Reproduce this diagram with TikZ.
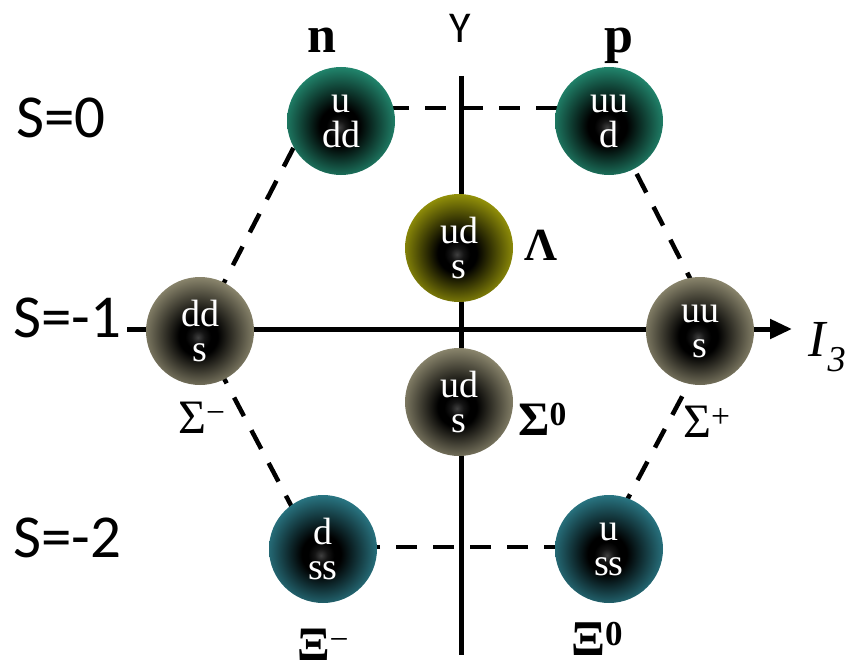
\documentclass[tikz,border=0pt]{standalone}
\usepackage{fontspec}
\setmainfont{Liberation Serif}
\newfontfamily\sansS{Carlito}
\usetikzlibrary{arrows.meta,backgrounds}
\definecolor{cN}{RGB}{36,145,118}
\definecolor{cL}{RGB}{160,158,10}
\definecolor{cS}{RGB}{150,145,118}
\definecolor{cX}{RGB}{45,128,142}
\newcommand\declball[2]{\pgfdeclareradialshading{#1}{\pgfpoint{-1bp}{-3bp}}{color(0bp)=(black!75!white); color(3bp)=(black!92!white); color(6bp)=(black); color(9bp)=(black); color(28bp)=(#2); color(47bp)=(#2); color(50bp)=(#2!85!white)}}
\declball{ballN}{cN}
\declball{ballL}{cL}
\declball{ballS}{cS}
\declball{ballX}{cX}
\tikzset{
  ball/.style={circle, minimum size=108pt, inner sep=0pt, shading=#1, text=white, align=center, font=\fontsize{38}{35}\selectfont},
  lbl/.style={inner sep=0pt, font=\fontsize{#1}{#1}\selectfont},
  slbl/.style={inner sep=0pt, anchor=base west, font=\sansS\fontsize{61}{61}\selectfont},
  hexline/.style={line width=4.5pt, dash pattern=on 21pt off 16pt},
  axis/.style={line width=5pt}
}
\begin{document}
\begin{tikzpicture}[x=1pt,y=-1pt]
\useasboundingbox (0,0) rectangle (852,669);
% balls
\node[ball=ballN] (n) at (341,121) {u\\dd};
\node[ball=ballN] (p) at (609,121) {uu\\d};
\node[ball=ballL] (L) at (459,248) {ud\\s};
\node[ball=ballS] (Sm) at (200,331) {dd\\s};
\node[ball=ballS] (Sp) at (700,331) {uu\\s};
\node[ball=ballS] (S0) at (459,402) {ud\\s};
\node[ball=ballX] (Xm) at (323,549) {d\\ss};
\node[ball=ballX] (X0) at (609,549) {u\\ss};
% axis and hexagon coordinates
\coordinate (axL) at (127,329);
\coordinate (axR) at (792,329);
\coordinate (ayT) at (461,76);
\coordinate (ayB) at (461,655);
\coordinate (h1) at (314,108);
\coordinate (h2) at (603,108);
\coordinate (h3) at (717,331);
\coordinate (h4) at (602,547);
\coordinate (h5) at (313,547);
\coordinate (h6) at (199,331);
\begin{pgfonlayer}{background}
\draw[hexline] (h1) -- (h2);
\draw[hexline] (h2) -- (h3);
\draw[hexline] (h3) -- (h4);
\draw[hexline] (h4) -- (h5);
\draw[hexline] (h5) -- (h6);
\draw[hexline] (h6) -- (h1);
\draw[axis] (ayT) -- (ayB);
\draw[axis, -{Triangle[length=22pt,width=19pt]}] (axL) -- (axR);
\end{pgfonlayer}
% labels
\node[lbl=52, anchor=base] (ln) at (322,53) {\textbf{n}};
\node[lbl=52, anchor=base] (lp) at (619,53) {\textbf{p}};
\node[lbl=46, anchor=base west] (lL) at (524,260) {\textbf{Λ}};
\node[lbl=48, anchor=base west] (lS0) at (518,435) {\textbf{Σ\textsuperscript{0}}};
\node[lbl=48, anchor=base west] (lSm) at (178,433) {Σ\textsuperscript{−}};
\node[lbl=48, anchor=base west] (lSp) at (683,437) {Σ\textsuperscript{+}};
\node[lbl=48, anchor=base west] (lXm) at (297,660) {\textbf{Ξ}\textsuperscript{−}};
\node[lbl=50, anchor=base west] (lX0) at (571,655) {\textbf{Ξ\textsuperscript{0}}};
\node[lbl=52, anchor=base west] (lI) at (808,356) {\textit{I}\textsubscript{\textit{3}}};
\node[inner sep=0pt, anchor=base, font=\sansS\fontsize{44}{44}\selectfont] (lY) at (460,43) {Y};
\node[slbl] (s0) at (16,137) {S=0};
\node[slbl] (s1) at (13,337) {S=-1};
\node[slbl] (s2) at (13,557) {S=-2};
\end{tikzpicture}
\end{document}
